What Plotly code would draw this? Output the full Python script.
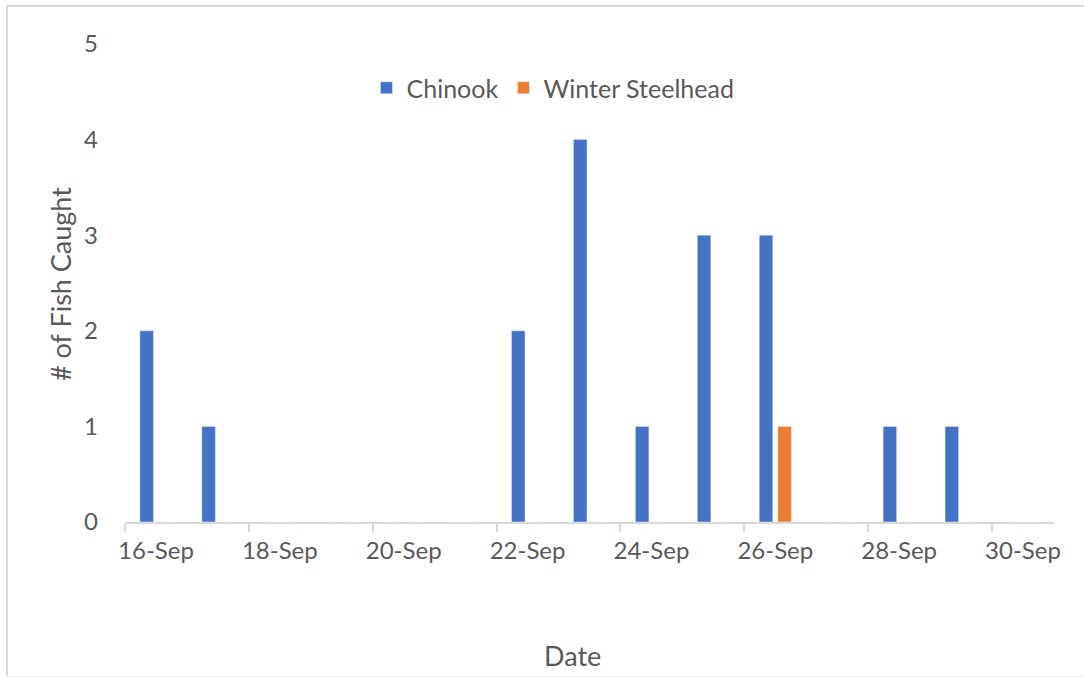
import plotly.graph_objects as go

dates = ["16-Sep", "17-Sep", "18-Sep", "19-Sep", "20-Sep", "21-Sep", "22-Sep", "23-Sep",
         "24-Sep", "25-Sep", "26-Sep", "27-Sep", "28-Sep", "29-Sep", "30-Sep"]
days = [16, 17, 18, 19, 20, 21, 22, 23, 24, 25, 26, 27, 28, 29, 30]
chinook = [2, 1, 0, 0, 0, 0, 2, 4, 1, 3, 3, 0, 1, 1, 0]
steelhead = [0, 0, 0, 0, 0, 0, 0, 0, 0, 0, 1, 0, 0, 0, 0]
tick_days = days[::2]
tick_labels = dates[::2]

W, H = 1084, 677
L, R, T, B = 125, 30, 44, 155
pw, ph = W - L - R, H - T - B


def px_x(x):
    return (x - L) / pw


def px_y(y):
    return (H - B - y) / ph


FONT = "Lato"
GRAY = "#595959"
BORDER = "#d9d9d9"

fig = go.Figure()
fig.add_trace(go.Bar(x=days, y=chinook, name="Chinook", marker_color="#4472C4"))
fig.add_trace(go.Bar(x=days, y=steelhead, name="Winter Steelhead", marker_color="#ED7D31"))

fig.update_layout(
    width=W, height=H,
    margin=dict(l=L, r=R, t=T, b=B),
    paper_bgcolor="white", plot_bgcolor="white",
    barmode="group", bargap=0.40, bargroupgap=0.27,
    font=dict(family=FONT, color=GRAY, size=24),
    legend=dict(orientation="h", x=px_x(553), xanchor="center",
                y=px_y(88), yanchor="middle",
                font=dict(size=25, color=GRAY), itemwidth=30, traceorder="normal"),
    showlegend=True,
)
fig.update_xaxes(
    range=[15.5, 30.5], tickmode="array", tickvals=tick_days, ticktext=tick_labels,
    ticks="", showgrid=False, zeroline=False,
    showline=True, linecolor=BORDER, linewidth=2,
    tickfont=dict(size=24, color=GRAY),
    minor=dict(tickmode="array", tickvals=[d - 0.5 for d in tick_days],
               ticks="outside", ticklen=8, tickcolor=BORDER, tickwidth=2, showgrid=False),
    ticklabelstandoff=6,
)
fig.update_yaxes(
    range=[0, 5], tickmode="linear", tick0=0, dtick=1, showgrid=False, zeroline=False,
    showline=False, ticks="", tickfont=dict(size=24, color=GRAY), ticklabelstandoff=26,
)

fig.add_annotation(text="Date", xref="paper", yref="paper",
                   x=px_x(572), y=px_y(655), xanchor="center", yanchor="middle",
                   showarrow=False, font=dict(size=27, color=GRAY))
fig.add_annotation(text="# of Fish Caught", xref="paper", yref="paper",
                   x=px_x(60), y=px_y(284), xanchor="center", yanchor="middle",
                   textangle=-90, showarrow=False, font=dict(size=27, color=GRAY))

# chart-area frame: left, top and faint bottom edges
fig.add_shape(type="line", xref="paper", yref="paper",
              x0=px_x(7), x1=px_x(7), y0=px_y(6), y1=px_y(680),
              line=dict(color=BORDER, width=2))
fig.add_shape(type="line", xref="paper", yref="paper",
              x0=px_x(6), x1=px_x(1084), y0=px_y(6), y1=px_y(6),
              line=dict(color=BORDER, width=2))
fig.add_shape(type="line", xref="paper", yref="paper",
              x0=px_x(6), x1=px_x(1084), y0=px_y(676.5), y1=px_y(676.5),
              line=dict(color="#eeeeee", width=1))

fig.write_html("out.html", config={"displayModeBar": False},
               post_script="document.body.style.margin='0';document.body.style.overflow='hidden';")
